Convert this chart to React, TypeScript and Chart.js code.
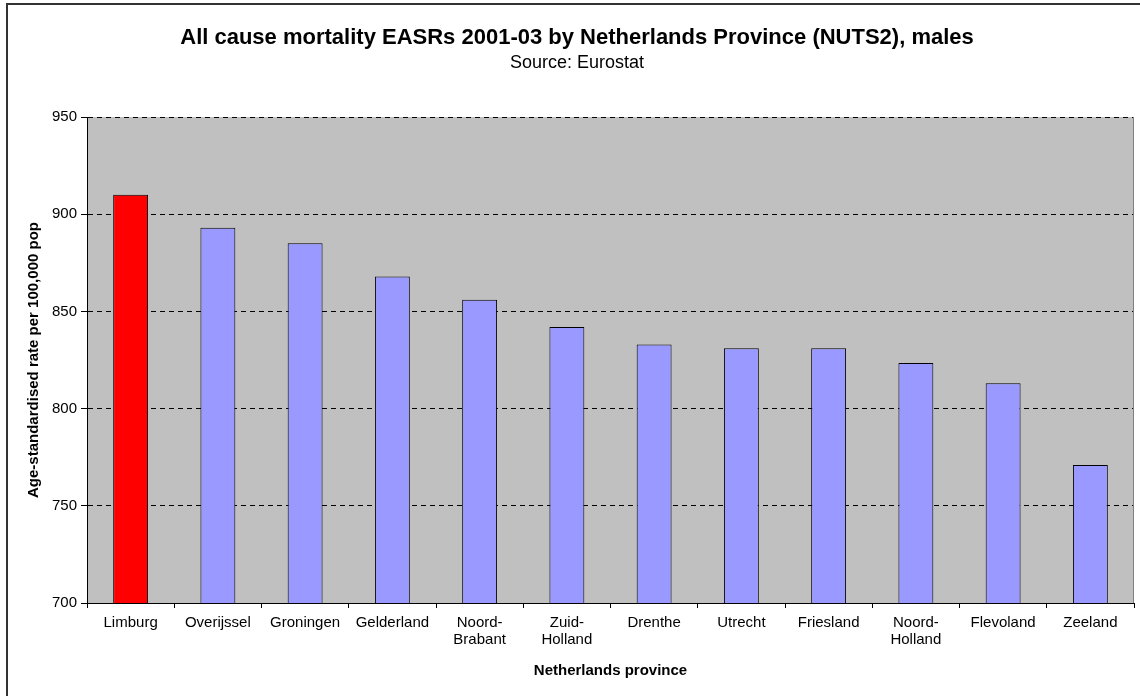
import React, { useEffect, useRef } from "react";
import { Chart, registerables } from "chart.js";

Chart.register(...registerables);

const categories: (string | string[])[] = [
  "Limburg",
  "Overijssel",
  "Groningen",
  "Gelderland",
  ["Noord-", "Brabant"],
  ["Zuid-", "Holland"],
  "Drenthe",
  "Utrecht",
  "Friesland",
  ["Noord-", "Holland"],
  "Flevoland",
  "Zeeland",
];

const rates: number[] = [910, 893, 885, 868, 856, 842, 833, 831, 831, 823.5, 813, 771];

const barColors: string[] = [
  "#FF0000",
  "#9999FF",
  "#9999FF",
  "#9999FF",
  "#9999FF",
  "#9999FF",
  "#9999FF",
  "#9999FF",
  "#9999FF",
  "#9999FF",
  "#9999FF",
  "#9999FF",
];

const yMin = 700;
const yMax = 950;
const yStep = 50;

const titleText = "All cause mortality EASRs 2001-03 by Netherlands Province (NUTS2), males";
const subtitleText = "Source: Eurostat";
const xTitle = "Netherlands province";
const yTitle = "Age-standardised rate per 100,000 pop";

const W = 1152;
const H = 696;
const FONT = "'Liberation Sans', Arial, sans-serif";

const decorPlugin = {
  id: "decor",
  beforeDraw(chart: any) {
    const { ctx, chartArea } = chart;
    ctx.save();
    ctx.fillStyle = "#FFFFFF";
    ctx.fillRect(0, 0, chart.width, chart.height);
    ctx.fillStyle = "#C0C0C0";
    ctx.fillRect(chartArea.left, chartArea.top, chartArea.right - chartArea.left, chartArea.bottom - chartArea.top);
    ctx.restore();
  },
  afterDraw(chart: any) {
    const { ctx, chartArea } = chart;
    ctx.save();
    ctx.strokeStyle = "#808080";
    ctx.lineWidth = 1;
    ctx.beginPath();
    ctx.moveTo(Math.round(chartArea.right) - 0.5, chartArea.top);
    ctx.lineTo(Math.round(chartArea.right) - 0.5, chartArea.bottom);
    ctx.stroke();
    ctx.strokeStyle = "#333333";
    ctx.lineWidth = 2;
    ctx.beginPath();
    ctx.moveTo(7, H + 5);
    ctx.lineTo(7, 4);
    ctx.lineTo(W + 5, 4);
    ctx.stroke();
    ctx.restore();
  },
};

export default function App() {
  const ref = useRef<HTMLCanvasElement | null>(null);

  useEffect(() => {
    document.body.style.margin = "0";
    document.body.style.overflow = "hidden";
    const canvas = ref.current;
    if (!canvas) return;
    const chart = new Chart(canvas, {
      type: "bar",
      data: {
        labels: categories,
        datasets: [
          {
            data: rates,
            backgroundColor: barColors,
            borderColor: "#000000",
            borderWidth: 1,
            categoryPercentage: 1,
            barPercentage: 0.4,
          },
        ],
      },
      options: {
        responsive: false,
        animation: false,
        devicePixelRatio: 1,
        layout: { padding: { left: 20, right: 18, top: 0, bottom: 0 } },
        plugins: {
          legend: { display: false },
          tooltip: { enabled: false },
          title: {
            display: true,
            text: titleText,
            color: "#000",
            font: { family: FONT, size: 22, weight: "bold", lineHeight: 1.2 },
            padding: { top: 25, bottom: 0 },
          },
          subtitle: {
            display: true,
            text: subtitleText,
            color: "#000",
            font: { family: FONT, size: 18, weight: "normal", lineHeight: 1.2 },
            padding: { top: 1, bottom: 43 },
          },
        },
        scales: {
          x: {
            offset: true,
            afterFit: (s: any) => {
              s.height = 93;
            },
            grid: {
              display: true,
              drawOnChartArea: false,
              drawTicks: true,
              tickLength: 5,
              offset: true,
              color: "#000",
            },
            border: { display: true, color: "#000", width: 1 },
            ticks: {
              color: "#000",
              padding: 6,
              maxRotation: 0,
              autoSkip: false,
              font: { family: FONT, size: 15, lineHeight: 1.15 },
            },
            title: {
              display: true,
              text: xTitle,
              color: "#000",
              font: { family: FONT, size: 15, weight: "bold", lineHeight: 1.2 },
              padding: { top: 0, bottom: 16 },
            },
          },
          y: {
            min: yMin,
            max: yMax,
            afterFit: (s: any) => {
              s.width = 67;
            },
            grid: {
              display: true,
              drawOnChartArea: true,
              drawTicks: true,
              tickLength: 6,
              color: "#000",
              tickColor: "#000",
            },
            border: { display: true, color: "#000", width: 1, dash: [5, 4] },
            ticks: {
              stepSize: yStep,
              color: "#000",
              padding: 4,
              font: { family: FONT, size: 15 },
            },
            title: {
              display: true,
              text: yTitle,
              color: "#000",
              font: { family: FONT, size: 15, weight: "bold", lineHeight: 1.2 },
              padding: { top: 5, bottom: 0 },
            },
          },
        },
      },
      plugins: [decorPlugin],
    });
    return () => chart.destroy();
  }, []);

  return (
    <div style={{ position: "fixed", left: 0, top: 0, width: W, height: H }}>
      <canvas ref={ref} width={W} height={H} style={{ width: W, height: H, display: "block" }} />
    </div>
  );
}
